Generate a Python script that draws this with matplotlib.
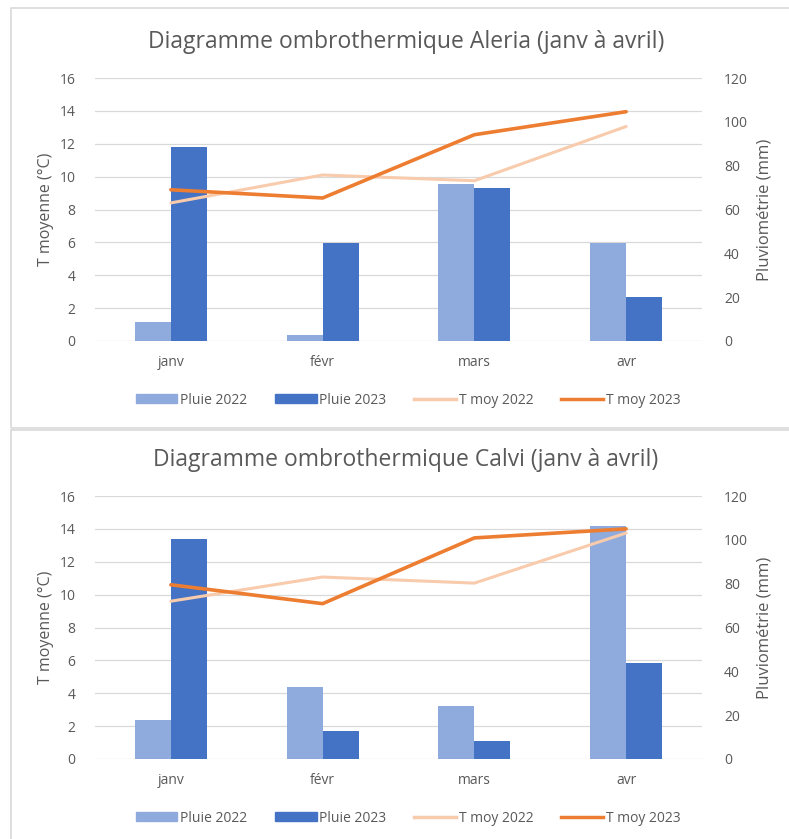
import matplotlib
matplotlib.use("Agg")
import matplotlib.pyplot as plt
from matplotlib.patches import Rectangle
from matplotlib.lines import Line2D
import numpy as np

plt.rcParams['font.family'] = ['Open Sans', 'DejaVu Sans']

mois = ["janv", "févr", "mars", "avr"]

# Aleria
aleria_pluie_2022 = [8.8, 2.9, 71.5, 44.6]
aleria_pluie_2023 = [88.4, 44.6, 70.0, 19.9]
aleria_t_2022 = [8.4, 10.1, 9.75, 13.05]
aleria_t_2023 = [9.2, 8.7, 12.55, 13.95]

# Calvi
calvi_pluie_2022 = [17.9, 32.9, 24.3, 106.3]
calvi_pluie_2023 = [100.5, 12.9, 8.4, 44.0]
calvi_t_2022 = [9.6, 11.07, 10.7, 13.75]
calvi_t_2023 = [10.6, 9.45, 13.45, 14.0]

c_p22 = "#8FAADC"
c_p23 = "#4472C4"
c_t22 = "#F8CBAD"
c_t23 = "#ED7D31"
gris = "#595959"

W, H = 789, 839
fig = plt.figure(figsize=(W / 100, H / 100), dpi=100)


def px(x0, y0, x1, y1):
    # pixels -> figure fraction
    return [x0 / W, 1 - y1 / H, (x1 - x0) / W, (y1 - y0) / H]


def panel(top, titre, p22, p23, t22, t23):
    ax = fig.add_axes(px(95, top + 78, 702, top + 341))
    ax2 = ax.twinx()
    x = np.arange(len(mois))
    bw = 0.237
    ax2.bar(x - bw / 2, p22, bw, color=c_p22, zorder=2)
    ax2.bar(x + bw / 2, p23, bw, color=c_p23, zorder=2)
    ax2.set_ylim(0, 120)
    ax2.set_yticks(range(0, 121, 20))
    ax.set_zorder(ax2.get_zorder() + 1)
    ax.patch.set_visible(False)
    ax.plot(x, t22, color=c_t22, lw=2.2, solid_capstyle="round")
    ax.plot(x, t23, color=c_t23, lw=2.6, solid_capstyle="round")
    ax.set_ylim(0, 16)
    ax.set_yticks(range(0, 17, 2))
    ax.set_xlim(-0.5, 3.5)
    ax.set_xticks(x)
    ax.set_xticklabels(mois)
    for a in (ax, ax2):
        for s in a.spines.values():
            s.set_visible(False)
        a.tick_params(length=0, colors=gris, labelsize=10)
    ax.tick_params(axis="y", pad=14)
    ax2.tick_params(axis="y", pad=16)
    ax.tick_params(axis="x", pad=10)
    for v in range(0, 17, 2):
        ax2.axhline(v * 7.5, color="#D9D9D9", lw=0.9, zorder=0)
    ax.set_ylabel("T moyenne (°C)", color=gris, fontsize=11.5, labelpad=4)
    ax2.set_ylabel("Pluviométrie (mm)", color=gris, fontsize=12, labelpad=6)
    fig.text(406 / W, 1 - (top + 42) / H, titre, ha="center", va="center",
             fontsize=16.5, color=gris)
    handles = [Rectangle((0, 0), 1, 1, color=c_p22),
               Rectangle((0, 0), 1, 1, color=c_p23),
               Line2D([], [], color=c_t22, lw=2.5),
               Line2D([], [], color=c_t23, lw=2.5)]
    fig.legend(handles, ["Pluie 2022", "Pluie 2023", "T moy 2022", "T moy 2023"],
               loc="center", bbox_to_anchor=(408 / W, 1 - (top + 400) / H),
               ncol=4, frameon=False, fontsize=10, labelcolor=gris,
               handlelength=3.0, handleheight=0.6, handletextpad=0.2,
               columnspacing=2.0)


panel(0, "Diagramme ombrothermique Aleria (janv à avril)",
      aleria_pluie_2022, aleria_pluie_2023, aleria_t_2022, aleria_t_2023)
panel(418, "Diagramme ombrothermique Calvi (janv à avril)",
      calvi_pluie_2022, calvi_pluie_2023, calvi_t_2022, calvi_t_2023)

# cadres des graphiques
fig.add_artist(Rectangle((11 / W, 1 - 428 / H), 1, 420 / H, transform=fig.transFigure,
                         fill=False, ec="#D9D9D9", lw=1.2))
fig.add_artist(Rectangle((11 / W, -0.1), 1, (0.1 + 1 - 430 / H), transform=fig.transFigure,
                         fill=False, ec="#D9D9D9", lw=1.2))

fig.savefig("out.png", dpi=100)
